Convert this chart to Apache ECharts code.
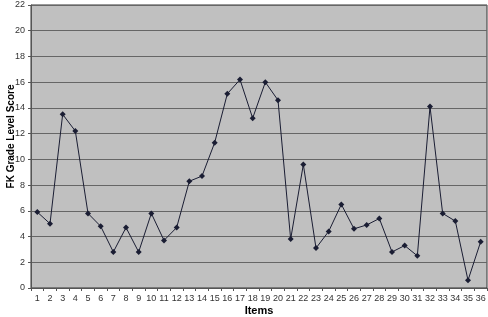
<!DOCTYPE html>
<html>
<head>
<meta charset="utf-8">
<script src="https://cdn.jsdelivr.net/npm/echarts@6/dist/echarts.min.js"></script>
<style>
html,body{margin:0;padding:0;background:#fff;}
#chart{width:488px;height:317px;}
</style>
</head>
<body>
<div id="chart"></div>
<script>
const categories = ['1','2','3','4','5','6','7','8','9','10','11','12','13','14','15','16','17','18','19','20','21','22','23','24','25','26','27','28','29','30','31','32','33','34','35','36'];
const scores = [5.9,5.0,13.5,12.2,5.8,4.8,2.8,4.7,2.8,5.8,3.7,4.7,8.3,8.7,11.3,15.1,16.2,13.2,16.0,14.6,3.8,9.6,3.1,4.4,6.5,4.6,4.9,5.4,2.8,3.3,2.5,14.1,5.8,5.2,0.6,3.6];
const yTicks = {min:0, max:22, interval:2};
const xTitle = 'Items';
const yTitle = 'FK Grade Level Score';

const chart = echarts.init(document.getElementById('chart'));
chart.setOption({
  animation:false,
  grid:{left:31,right:1,top:5,bottom:29,containLabel:false,outerBoundsMode:'none',show:true,backgroundColor:'#c0c0c0',borderColor:'#333',borderWidth:1},
  xAxis:{
    type:'category', data:categories, boundaryGap:true,
    name:xTitle, nameLocation:'middle', nameGap:17, nameMoveOverlap:false,
    nameTextStyle:{fontFamily:'Liberation Sans',fontWeight:'bold',fontSize:11,color:'#000'},
    axisLine:{lineStyle:{color:'#555'}},
    axisTick:{show:true,length:3,lineStyle:{color:'#555'}},
    axisLabel:{fontFamily:'Liberation Sans',fontSize:9,color:'#333',margin:6,interval:0}
  },
  yAxis:{
    type:'value', min:yTicks.min, max:yTicks.max, interval:yTicks.interval,
    name:yTitle, nameLocation:'middle', nameGap:15, nameMoveOverlap:false,
    nameTextStyle:{fontFamily:'Liberation Sans',fontWeight:'bold',fontSize:10,color:'#000',padding:[0,0,0,20]},
    axisLine:{show:true,lineStyle:{color:'#555'}},
    axisTick:{show:true,length:3,lineStyle:{color:'#555'}},
    axisLabel:{fontFamily:'Liberation Sans',fontSize:9,color:'#333',margin:6},
    splitLine:{show:true,lineStyle:{color:'#666',width:1}}
  },
  series:[{
    type:'line', data:scores,
    symbol:'diamond', symbolSize:6,
    lineStyle:{color:'#1a1d33',width:1},
    itemStyle:{color:'#1a1d33'}
  }]
});
</script>
</body>
</html>
